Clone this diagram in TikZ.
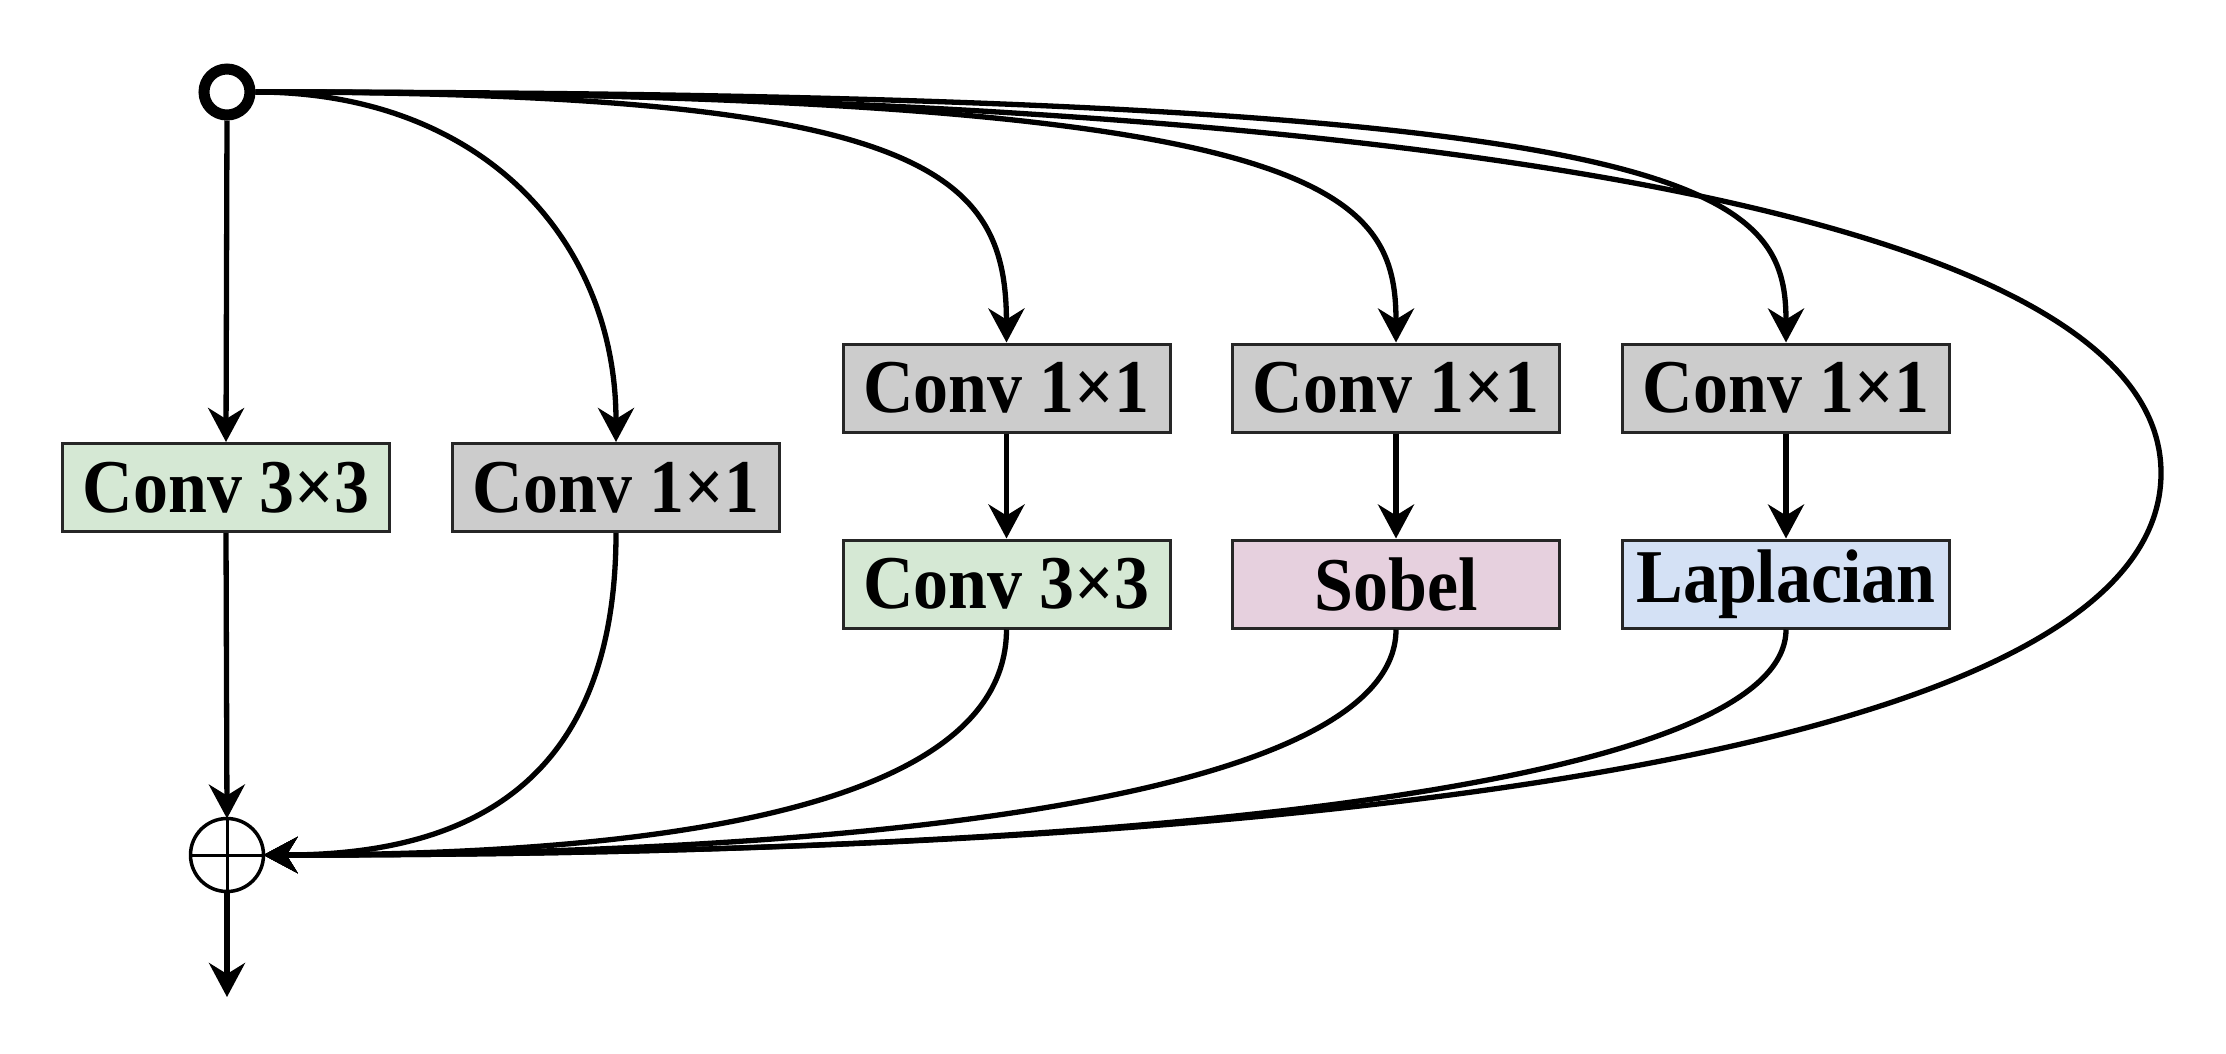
\documentclass[tikz,border=0pt]{standalone}
\usepackage{fontspec}
\setmainfont{Liberation Serif}[FakeStretch=0.92]
\usetikzlibrary{arrows.meta}
\definecolor{gfill}{HTML}{D5E8D4}
\definecolor{kfill}{HTML}{CCCCCC}
\definecolor{pfill}{HTML}{E6D0DE}
\definecolor{bfill}{HTML}{D4E1F5}
\begin{document}
\begin{tikzpicture}[x=1pt,y=-1pt,
  box/.style={draw=black!85, line width=3pt, minimum width=327pt, minimum height=88pt, inner sep=0pt,
    font=\fontsize{76}{76}\selectfont\bfseries},
  conn/.style={line width=5.3pt},
  arr/.style={conn, -{Stealth[length=34pt,width=36pt,inset=11pt]}},
]
\useasboundingbox (0,0) rectangle (2226,1053);
\node[circle, draw, line width=11pt, minimum size=46pt, inner sep=0pt] (in) at (227,92) {};
\node[box, fill=gfill] (a) at (226,487.5) {Conv 3×3};
\node[box, fill=kfill] (b) at (616,487.5) {Conv 1×1};
\node[box, fill=kfill] (c1) at (1006.5,388) {Conv 1×1};
\node[box, fill=gfill] (c2) at (1006.5,584) {Conv 3×3};
\node[box, fill=kfill] (d1) at (1396,388) {Conv 1×1};
\node[box, fill=pfill] (d2) at (1396,584) {Sobel};
\node[box, fill=kfill] (e1) at (1786,388) {Conv 1×1};
\node[box, fill=bfill] (e2) at (1786,584) {Laplacian};
\node[circle, draw, line width=3.5pt, minimum size=73pt, inner sep=0pt, outer sep=0pt] (sum) at (227,855) {};
\draw[line width=3pt] (sum.north) -- (sum.south) (sum.west) -- (sum.east);
\coordinate (out) at (227,997);
\coordinate (far) at (2161,473);

% straight arrows
\draw[arr] (in.south) -- (a.north);
\draw[arr] (a.south) -- (sum.north);
\draw[arr] (sum.south) -- (out);
\draw[arr] (c1.south) -- (c2.north);
\draw[arr] (d1.south) -- (d2.north);
\draw[arr] (e1.south) -- (e2.north);

% top fan-out
\draw[arr] (in.east) .. controls (483,92) and (616,241) .. (b.north);
\draw[arr] (in.east) .. controls (923,92) and (1006,170) .. (c1.north);
\draw[arr] (in.east) .. controls (1320,92) and (1396,185) .. (d1.north);
\draw[arr] (in.east) .. controls (1703,92) and (1786,185) .. (e1.north);

% big loop
\draw[arr] (in.east) .. controls (1420,92) and (2161,213) .. (far)
  .. controls (2161,738) and (1420,855) .. (sum.east);

% fan-in
\draw[arr] (b.south) .. controls (616,795) and (454,855) .. (sum.east);
\draw[arr] (c2.south) .. controls (1006,795) and (710,855) .. (sum.east);
\draw[arr] (d2.south) .. controls (1396,774) and (994,855) .. (sum.east);
\draw[arr] (e2.south) .. controls (1786,767) and (1278,855) .. (sum.east);
\end{tikzpicture}
\end{document}
